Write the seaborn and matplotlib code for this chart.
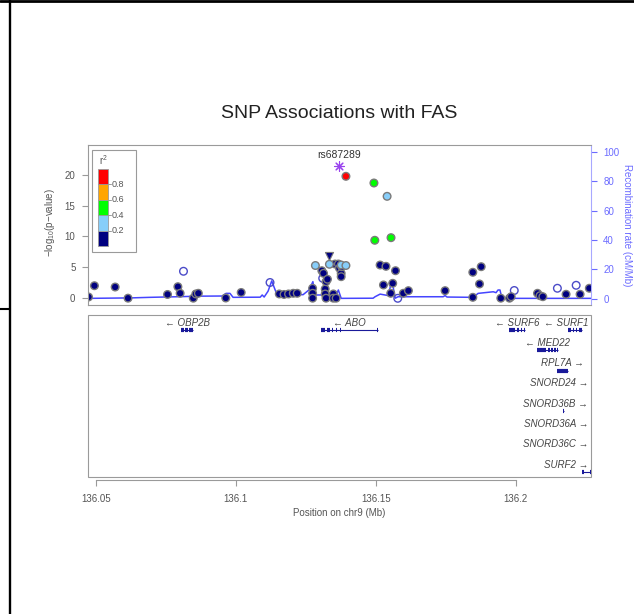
import numpy as np
import pandas as pd
import matplotlib
matplotlib.use("Agg")
import matplotlib.pyplot as plt
import seaborn as sns
from matplotlib.lines import Line2D
from matplotlib.patches import Rectangle

# ---- SNP associations (position in Mb, -log10 p, r2 with the lead SNP; nan = no LD info)
snp_pos = [136.0474, 136.0495, 136.0569, 136.0615, 136.0756, 136.0793, 136.0801, 136.0848,
           136.0857, 136.0866, 136.0964, 136.1019, 136.1155, 136.1172, 136.1188, 136.1205,
           136.1219, 136.1274, 136.1274, 136.1274, 136.1307, 136.1313, 136.1319, 136.1319,
           136.1322, 136.1322, 136.1327, 136.1348, 136.1348, 136.1358, 136.1354, 136.1366,
           136.1370, 136.1376, 136.1378, 136.1376, 136.1515, 136.1536, 136.1570, 136.1527,
           136.1560, 136.1553, 136.1598, 136.1616, 136.1747, 136.1846, 136.1876, 136.1870,
           136.1846, 136.1946, 136.1977, 136.1983, 136.2077, 136.2086, 136.2096, 136.2179,
           136.2229, 136.2262,
           136.1284, 136.1334, 136.1376, 136.1393, 136.1540,
           136.1493, 136.1496, 136.1554,
           136.1393,
           136.0813, 136.1122, 136.1310, 136.1578, 136.1994, 136.2148, 136.2215]
snp_logp = [0.24, 2.06, 1.85, 0.05, 0.65, 1.90, 0.84, 0.05,
            0.73, 0.84, 0.08, 0.97, 0.73, 0.65, 0.73, 0.84,
            0.84, 1.65, 0.84, 0.05, 4.48, 4.06, 1.53, 0.73,
            0.05, 2.71, 3.10, 0.73, 0.05, 0.05, 5.56, 5.56,
            4.87, 4.06, 5.13, 3.52, 5.40, 5.19, 4.48, 2.18,
            2.45, 0.84, 0.84, 1.26, 1.26, 4.23, 5.13, 2.34,
            0.19, 0.05, 0.05, 0.29, 0.84, 0.45, 0.29, 0.68,
            0.68, 1.65,
            5.32, 5.52, 5.40, 5.32, 16.48,
            18.63, 9.39, 9.81,
            19.71,
            4.39, 2.58, 3.26, 0.03, 1.29, 1.65, 2.13]
snp_r2 = [0.1] * 58 + [0.3] * 5 + [0.5] * 3 + [0.9] + [np.nan] * 7

# SNP drawn as a triangle and the index SNP
tri_pos, tri_logp = [136.1334], [6.85]
lead_name, lead_pos, lead_logp = "rs687289", 136.1370, 21.42

# ---- recombination rate (cM/Mb)
rec_pos = [136.0473, 136.0622, 136.0694, 136.0789, 136.0872, 136.0951, 136.0965, 136.0979,
           136.0990, 136.1087, 136.1094, 136.1101, 136.1115, 136.1128, 136.1146, 136.1240,
           136.1262, 136.1275, 136.1283, 136.1358, 136.1366, 136.1376, 136.1490, 136.1497,
           136.1515, 136.1544, 136.1557, 136.1569, 136.1579, 136.1740, 136.1747, 136.1754,
           136.1847, 136.1865, 136.1919, 136.1929, 136.1936, 136.1943, 136.1950, 136.2268]
rec_rate = [0.1, 0.4, 0.8, 1.2, 1.6, 1.7, 3.5, 3.5,
            0.8, 0.9, 2.4, 1.0, 5.0, 12.0, 3.0, 2.6,
            6.0, 11.5, 2.4, 2.4, 5.8, 0.1, 0.2, 1.2,
            3.0, 2.0, 12.5, 0.2, 1.2, 1.2, 2.0, 1.0,
            0.8, 3.5, 4.6, 4.0, 5.8, 5.8, 0.1, 0.1]

# ---- genes: name, strand, track row, exons (Mb)
gene_names = ["OBP2B", "ABO", "SURF6", "SURF1", "MED22", "RPL7A",
              "SNORD24", "SNORD36B", "SNORD36A", "SNORD36C", "SURF2"]
gene_strand = ["-", "-", "-", "-", "-", "+", "+", "+", "+", "+", "+"]
gene_row = [0, 0, 0, 0, 1, 2, 3, 4, 5, 6, 7]
gene_exons = [
    [(136.08045, 136.08152), (136.08206, 136.08295), (136.08349, 136.08484)],
    [(136.13033, 136.13169), (136.13247, 136.13365), (136.13447, 136.13483),
     (136.13579, 136.13615), (136.13704, 136.13740), (136.15040, 136.15068)],
    [(136.19756, 136.19970), (136.20042, 136.20113), (136.20185, 136.20220), (136.20292, 136.20328)],
    [(136.21851, 136.21969), (136.22022, 136.22076), (136.22130, 136.22183), (136.22237, 136.22351)],
    [(136.20766, 136.21077), (136.21130, 136.21202), (136.21255, 136.21309),
     (136.21362, 136.21416), (136.21469, 136.21515)],
    [(136.21480, 136.21851)],
    [(136.21630, 136.21644)],
    [(136.21687, 136.21701)],
    [(136.21712, 136.21726)],
    [(136.21773, 136.21787)],
    [(136.22351, 136.22420), (136.22640, 136.22708)],
]

ld_labels = ["0.0-0.2", "0.2-0.4", "0.4-0.6", "0.6-0.8", "0.8-1.0"]
ld_colors = ["#000080", "#87CEFA", "#00FF00", "#FFA500", "#FF0000"]

sns.set_style("white")
plt.rcParams["font.family"] = ["Liberation Sans", "DejaVu Sans"]
plt.rcParams["mathtext.fontset"] = "custom"
plt.rcParams["mathtext.rm"] = "Liberation Sans"
plt.rcParams["mathtext.it"] = "Liberation Sans:italic"

W, H = 634, 614
fig = plt.figure(figsize=(W / 100, H / 100), dpi=100)
xmin, xmax = 136.0471, 136.2268
grey = "#9a9a9a"
txt = "#555555"
recol = "#6b6bff"

# ---------------- association panel
ax1 = fig.add_axes([87.7 / W, 1 - 305 / H, 503.3 / W, 160 / H])
ax2 = ax1.twinx()
ax1.set_zorder(ax2.get_zorder() + 1)
ax1.patch.set_visible(False)
ax1.set_xlim(xmin, xmax)
ax1.set_ylim(-1.05, 24.76)
ax2.set_ylim(-4.43, 104.7)

sns.lineplot(x=rec_pos, y=rec_rate, ax=ax2, color="#4545ff", linewidth=1.1)

df = pd.DataFrame({"pos": snp_pos, "logp": snp_logp, "r2": snp_r2})
df["ld"] = pd.cut(df["r2"], bins=[0, 0.2, 0.4, 0.6, 0.8, 1.0], labels=ld_labels)
ld_df = df.dropna(subset=["r2"]).sort_values("r2")
na_df = df[df["r2"].isna()]

sns.scatterplot(data=na_df, x="pos", y="logp", ax=ax1, color="#4b4bc8", s=30,
                edgecolor="#4b4bc8", linewidth=1.0, legend=False)
ax1.collections[-1].set_facecolor("none")
sns.scatterplot(data=ld_df, x="pos", y="logp", hue="ld", ax=ax1, s=30,
                palette=dict(zip(ld_labels, ld_colors)), edgecolor="#7a7a7a",
                linewidth=1.0, legend=False)
sns.scatterplot(x=tri_pos, y=tri_logp, ax=ax1, marker="v", color="#000080", s=34,
                edgecolor="#7a7a7a", linewidth=0.8, legend=False)
sns.scatterplot(x=[lead_pos], y=[lead_logp], ax=ax1, marker=(8, 2, 0), color="#9a44ee",
                edgecolor="#9a44ee", s=48, linewidth=0.8, legend=False)
ax1.text(lead_pos, 23.15, lead_name, ha="center", va="center", fontsize=7.5, color="#333333")

ax1.set_xticks([])
ax1.set_yticks([0, 5, 10, 15, 20])
ax1.tick_params(axis="y", left=True, length=4.3, width=0.8, color=grey,
                labelsize=7, labelcolor=txt, pad=4.5)
ax1.set_xlabel("")
ax1.set_ylabel("")
for side in ["left", "top", "bottom"]:
    ax1.spines[side].set_color(grey)
    ax1.spines[side].set_linewidth(0.8)
ax1.spines["right"].set_visible(False)
for side in ["left", "top", "bottom"]:
    ax2.spines[side].set_visible(False)
ax2.spines["right"].set_color("#a8a8ff")
ax2.spines["right"].set_linewidth(0.8)
ax2.set_yticks([0, 20, 40, 60, 80, 100])
ax2.tick_params(axis="y", right=True, length=4.3, width=0.8, color=recol,
                labelsize=7, labelcolor=recol, pad=4.5)
ax2.set_ylabel("")

# r2 legend
def fx(x):
    return (x - 87.7) / 503.3

def fy(y):
    return (305 - y) / 160

ax1.add_patch(Rectangle((fx(91.7), fy(251.7)), fx(135.7) - fx(91.7), fy(150) - fy(251.7),
                        transform=ax1.transAxes, fill=False, edgecolor=grey, lw=0.8, zorder=5))
edges = [246, 230.6, 215.2, 199.8, 184.4, 169]
for i, c in enumerate(ld_colors):
    ax1.add_patch(Rectangle((fx(97.7), fy(edges[i])), fx(107.7) - fx(97.7),
                            fy(edges[i + 1]) - fy(edges[i]), transform=ax1.transAxes,
                            facecolor=c, edgecolor=grey, lw=0.6, zorder=6))
for e, lab in zip(edges[1:5], ["0.2", "0.4", "0.6", "0.8"]):
    ax1.plot([fx(107.7), fx(110.5)], [fy(e), fy(e)], transform=ax1.transAxes,
             color=grey, lw=0.7, zorder=6)
    ax1.text(fx(111.7), fy(e), lab, transform=ax1.transAxes, ha="left", va="center",
             fontsize=6.5, color=txt, zorder=6)
ax1.text(fx(103), fy(160), "r$^2$", transform=ax1.transAxes, ha="center", va="center",
         fontsize=7, color=txt, zorder=6)

# ---------------- gene panel
ax3 = fig.add_axes([87.5 / W, 1 - 477 / H, 503.5 / W, 162 / H])
ax3.set_xlim(xmin, xmax)
ax3.set_ylim(7.23, -0.74)
for side in ["left", "top", "right"]:
    ax3.spines[side].set_visible(False)
ax3.add_patch(Rectangle((0, 0), 1, 1, transform=ax3.transAxes, fill=False,
                        edgecolor=grey, lw=0.8, clip_on=False))
ax3.spines["bottom"].set_position(("outward", 2))
ax3.spines["bottom"].set_bounds(136.05, 136.2)
ax3.spines["bottom"].set_color(grey)
ax3.spines["bottom"].set_linewidth(0.8)
ax3.set_yticks([])
ax3.set_xticks([136.05, 136.1, 136.15, 136.2])
ax3.set_xticklabels(["136.05", "136.1", "136.15", "136.2"])
ax3.tick_params(axis="x", bottom=True, length=4, width=0.8, color=grey,
                labelsize=7, labelcolor=txt, pad=6)

for name, strand, row, exons in zip(gene_names, gene_strand, gene_row, gene_exons):
    start, end = exons[0][0], exons[-1][1]
    ax3.hlines(row, start, end, color="#1a1a9a", lw=0.8)
    ax3.hlines([row] * len(exons), [e[0] for e in exons], [e[1] for e in exons],
               color="#1a1a9a", lw=3, capstyle="butt")

fig.canvas.draw()
renderer = fig.canvas.get_renderer()
right_px = ax3.transData.transform((xmax, 0))[0] - 3
px_per_mb = ax3.transData.transform((1, 0))[0] - ax3.transData.transform((0, 0))[0]
for name, strand, row, exons in zip(gene_names, gene_strand, gene_row, gene_exons):
    mid = (exons[0][0] + exons[-1][1]) / 2
    lab = "\u2190 " + name if strand == "-" else name + " \u2192"
    t = ax3.text(mid, row - 0.37, lab, ha="center", va="center", style="italic",
                 fontsize=7, color="#444444")
    bb = t.get_window_extent(renderer)
    if bb.x1 > right_px:
        t.set_x(mid - (bb.x1 - right_px) / px_per_mb)

# ---------------- titles and labels
fig.text(339.4 / W, 1 - 113 / H, "SNP Associations with FAS", ha="center", va="center",
         fontsize=14, color="#222222")
fig.text(50 / W, 1 - 222 / H, "\u2212log$_{10}$(p\u2212value)", rotation=90,
         ha="center", va="center", fontsize=7, color=txt)
fig.text(627 / W, 1 - 225 / H, "Recombination rate (cM/Mb)", rotation=270,
         ha="center", va="center", fontsize=7, color=recol)
fig.text(339.4 / W, 1 - 512.7 / H, "Position on chr9 (Mb)", ha="center", va="center",
         fontsize=7, color=txt)

# page frame lines
fig.add_artist(Line2D([0, 1], [1 - 1.3 / H] * 2, color="black", lw=2.0))
fig.add_artist(Line2D([10 / W] * 2, [0, 1], color="black", lw=1.7))
fig.add_artist(Line2D([0, 10 / W], [1 - 309 / H] * 2, color="black", lw=1.5))

fig.savefig("out.png", dpi=100)
